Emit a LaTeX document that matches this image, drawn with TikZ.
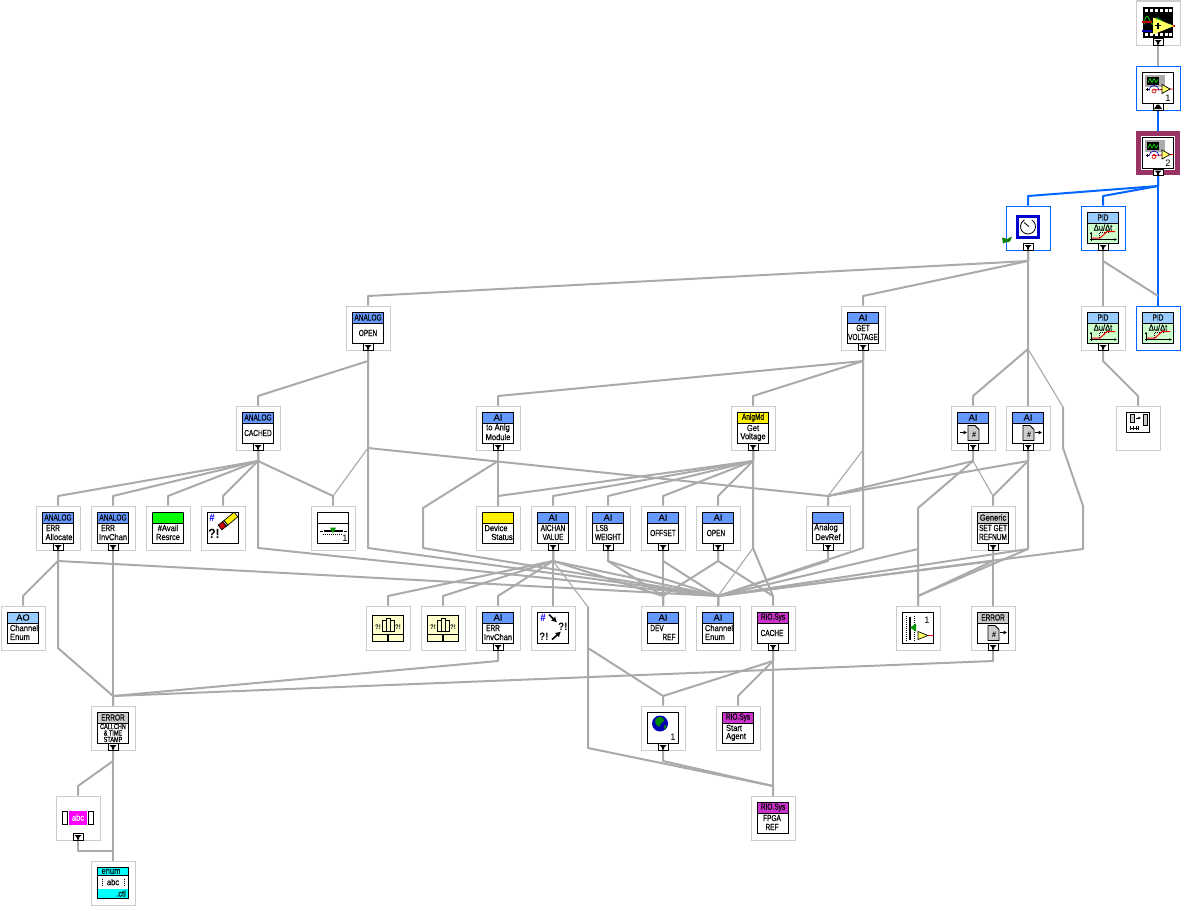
\documentclass[tikz,border=0pt]{standalone}
\usepackage{fontspec}
\usetikzlibrary{arrows.meta}
\setmainfont{Liberation Sans}
\newfontfamily\capfont[FakeStretch=0.74,FakeBold=0.25]{Liberation Sans}
\newfontfamily\lowfont[FakeStretch=0.86,FakeBold=0.25]{Liberation Sans}
\newfontfamily\widefont[FakeStretch=1.05,FakeBold=0.25]{Liberation Sans}
\newfontfamily\boldfont[FakeStretch=0.9]{Liberation Sans Bold}
\newcommand{\pxsize}{\fontsize{6.6}{7}\selectfont}
\definecolor{wiregray}{HTML}{AAAAAA}
\definecolor{tilegray}{HTML}{CCCCCC}
\definecolor{liveblue}{HTML}{0066FF}
\definecolor{plum}{HTML}{993366}
\definecolor{aiblue}{HTML}{6699FF}
\definecolor{paleblue}{HTML}{99CCFF}
\definecolor{pidgreen}{HTML}{CCFFCC}
\definecolor{riomag}{HTML}{CC33CC}
\definecolor{cream}{HTML}{FFFFCC}
\definecolor{headgray}{HTML}{CCCCCC}
\definecolor{ctlcyan}{HTML}{00FFFF}
\definecolor{abcpink}{HTML}{FF00FF}
\definecolor{sigyellow}{HTML}{FFFF66}
\tikzset{
  plain/.style={draw=tilegray,fill=white,line width=.75pt,minimum size=33pt,inner sep=0pt},
  live/.style={plain,draw=liveblue},
  current/.style={plain,draw=plum,line width=3.75pt,minimum size=29.25pt},
  wire/.style={draw=wiregray,line width=1.5pt,line join=round},
  thinwire/.style={draw=wiregray,line width=.85pt,line join=round},
  bluewire/.style={draw=liveblue,line width=1.5pt,line join=round},
  iconbox/.style={draw=black,line width=.75pt,fill=white},
  label/.style={inner sep=0pt,font=\pxsize\capfont},
  tightlabel/.style={inner sep=0pt,font=\fontsize{5.6}{6}\selectfont\capfont},
  hashmark/.style={inner sep=0pt,font=\fontsize{6}{7}\selectfont\boldfont},
  bigmark/.style={inner sep=0pt,font=\fontsize{10}{10}\selectfont\boldfont},
  dropbtn/.style={draw=black,fill=white,line width=.75pt,minimum width=7.5pt,minimum height=5pt,inner sep=0pt}
}
\begin{document}
\begin{tikzpicture}[x=.75pt,y=-.75pt]
\useasboundingbox (0,0) rectangle (1187,910);
\foreach \name/\cx/\ty/\look in {
  film/1158/1/plain, scopea/1158/66/live, scopeb/1158/131/current,
  clock/1028/206/live, pida/1103/206/live,
  aopen/368/306/plain, getv/863/306/plain, pidb/1103/306/plain, pidc/1158/306/live,
  cached/258/406/plain, tomod/498/406/plain, anlgmd/753/406/plain,
  filea/973/406/plain, fileb/1028/406/plain, swap/1138/406/plain,
  erralloc/58/506/plain, errinv/113/506/plain, avail/168/506/plain, pencil/223/506/plain,
  slidea/333/506/plain, devstat/498/506/plain, aichan/553/506/plain, lsb/608/506/plain,
  offset/663/506/plain, aiopen/718/506/plain, devref/828/506/plain, generic/993/506/plain,
  aochan/23/606/plain, bunda/388/606/plain, bundb/443/606/plain, aierr/498/606/plain,
  arrows/553/606/plain, drf/663/606/plain, chanen/718/606/plain, cache/773/606/plain,
  slideb/918/606/plain, errfile/993/606/plain,
  errcall/113/706/plain, globe/663/706/plain, agent/738/706/plain,
  abc/78/796/plain, fpga/773/796/plain, enumctl/113/861/plain}{
  \node[\look] (\name) at (\cx,\ty+22) {};
  \coordinate (\name-out) at (\cx,\ty+55);
  \coordinate (\name-in) at (\cx,\ty-10);
}
\foreach \lane/\cx/\cy in {
  clockmid/1028/349, clockup/1063/407, clockdn/1063/448, clockfar/1083/506, clocklow/1083/549,
  aopenup/368/448, aopenlow/368/548, cachedlow/258/548, modbend/423/508, modlow/423/548,
  anlglow/753/548, getvup/863/450, getvlow/863/548, filebend/918/508, slidelow/918/549,
  fileblow/1028/549, allocdn/58/648, chanbend/588/607, chandn/588/648, chanlow/588/748}{
  \coordinate (\lane) at (\cx,\cy);
}
\coordinate (abcjoin) at (78,851);
\coordinate (enumjoin) at (113,851);
\draw[wire] (film.south) -- (scopea.north);
\draw[bluewire] (scopea.south) -- (scopeb.north);
\draw[bluewire] (scopeb.south) -- (pidc.north);
\foreach \up/\dn in {scopeb/clock, scopeb/pida}{
  \draw[bluewire] (\up.south) -- (\up-out) -- (\dn-in) -- (\dn.north);
}
\foreach \up/\dn in {
  clock/aopen, clock/getv, pida/pidb, pidb/swap, aopen/cached, getv/tomod, getv/anlgmd,
  cached/erralloc, cached/errinv, cached/avail, cached/pencil, cached/slidea,
  tomod/devstat, anlgmd/devstat, anlgmd/aichan, anlgmd/lsb, anlgmd/offset, anlgmd/aiopen,
  filea/devref, fileb/devref, fileb/generic,
  erralloc/aochan, erralloc/chanen, aichan/bunda, aichan/bundb, aichan/aierr, aichan/arrows,
  aichan/drf, aichan/chanen, lsb/drf, lsb/chanen, offset/drf, offset/chanen,
  aiopen/drf, aiopen/cache, devref/chanen, generic/errfile, generic/slideb, generic/chanen,
  errfile/errcall, aierr/errcall, errcall/abc, errcall/enumctl, errinv/errcall,
  cache/globe, cache/agent, cache/fpga, globe/fpga}{
  \draw[wire] (\up.south) -- (\up-out) -- (\dn-in) -- (\dn.north);
}
\draw[wire] (pida-out) -- (pidc-in);
\draw[wire] (abc.south) -- (abcjoin) -- (enumjoin);
\draw[wire] (clock.south) -- (clockmid) -- (filea-in) -- (filea.north);
\draw[wire] (clockmid) -- (fileb.north);
\draw[thinwire] (clockmid) -- (clockup);
\draw[wire] (clockup) -- (clockdn) -- (clockfar) -- (clocklow) -- (chanen-in);
\draw[wire] (erralloc-out) -- (allocdn) -- (errcall-in);
\draw[thinwire] (aopenup) -- (slidea-in);
\draw[wire] (aopen.south) -- (aopenlow) -- (chanen-in);
\draw[wire] (aopenup) -- (devref-in);
\draw[wire] (cached.south) -- (cachedlow) -- (chanen-in);
\draw[wire] (tomod-out) -- (modbend) -- (modlow) -- (chanen-in);
\draw[wire] (anlgmd.south) -- (anlglow) -- (cache-in);
\draw[thinwire] (anlglow) -- (chanen-in);
\draw[wire] (getv.south) -- (getvlow) -- (chanen-in);
\draw[thinwire] (getvup) -- (devref-in);
\draw[wire] (filea-out) -- (filebend) -- (slideb.north);
\draw[wire] (slidelow) -- (chanen-in);
\draw[thinwire] (filea-out) -- (generic-in);
\draw[wire] (fileb.south) -- (fileblow) -- (chanen-in);
\draw[wire] (fileblow) -- (slideb-in);
\draw[thinwire] (aichan-out) -- (chanbend);
\draw[wire] (chanbend) -- (chandn) -- (globe-in);
\draw[wire] (chandn) -- (chanlow) -- (fpga-in);
\foreach \name/\hue/\head in {
  aopen/aiblue/ANALOG, getv/aiblue/{\widefont AI}, cached/aiblue/ANALOG, tomod/aiblue/{\widefont AI},
  anlgmd/yellow/AnlgMd, filea/aiblue/{\widefont AI}, fileb/aiblue/{\widefont AI}, erralloc/aiblue/ANALOG,
  errinv/aiblue/ANALOG, avail/green/{}, devstat/yellow/{}, aichan/aiblue/{\widefont AI},
  lsb/aiblue/{\widefont AI}, offset/aiblue/{\widefont AI}, aiopen/aiblue/{\widefont AI}, devref/aiblue/{},
  generic/headgray/{\lowfont Generic}, aochan/paleblue/{\widefont AO}, aierr/aiblue/{\widefont AI},
  drf/aiblue/{\widefont AI}, chanen/aiblue/{\widefont AI}, cache/riomag/RIO.Sys, errfile/headgray/ERROR,
  errcall/headgray/ERROR, agent/riomag/RIO.Sys, fpga/riomag/RIO.Sys,
  pida/paleblue/PID, pidb/paleblue/PID, pidc/paleblue/PID}{
  \begin{scope}[shift={(\name.north)}]
    \draw[iconbox] (-15.5,6.5) rectangle (15.5,37.5);
    \draw[iconbox,fill=\hue] (-15.5,6.5) rectangle (15.5,17.5);
    \node[label] (\name-head) at (0,12) {\head};
  \end{scope}
}
\foreach \name/\xa/\la/\xb/\lb in {
  getv/0/GET/0/VOLTAGE, tomod/0/{\lowfont to Anlg}/0/{\lowfont Module},
  anlgmd/0/{\lowfont Get}/0/{\lowfont Voltage},
  erralloc/-5/ERR/1/{\lowfont Allocate}, errinv/-5/ERR/0/{\lowfont InvChan},
  avail/0/{\lowfont\#Avail}/0/{\lowfont Resrce},
  devstat/-2/{\lowfont Device}/4/{\lowfont Status},
  aichan/0/AICHAN/0/VALUE, lsb/-6/LSB/0/WEIGHT,
  devref/-2/{\lowfont Analog}/0/{\lowfont DevRef},
  generic/0/SET GET/0/REFNUM, aochan/1/{\lowfont Channel}/-3/{\lowfont Enum},
  aierr/-5/ERR/0/{\lowfont InvChan}, drf/-6/DEV/6/REF,
  chanen/1/{\lowfont Channel}/-3/{\lowfont Enum},
  agent/-4/{\lowfont Start}/-2/{\lowfont Agent}, fpga/-1/FPGA/-1/REF}{
  \begin{scope}[shift={(\name.north)}]
    \node[label] (\name-la) at (\xa,22.5) {\la};
    \node[label] (\name-lb) at (\xb,31.5) {\lb};
  \end{scope}
}
\foreach \name/\xa/\la in {aopen/0/OPEN, cached/0/CACHED, offset/0/OFFSET, aiopen/-2/OPEN, cache/-1/CACHE}{
  \begin{scope}[shift={(\name.north)}]
    \node[label] (\name-la) at (\xa,27.5) {\la};
  \end{scope}
}
\begin{scope}[shift={(errcall.north)}]
  \node[tightlabel] (errcall-la) at (0,21) {CALLCHN};
  \node[tightlabel] (errcall-lb) at (0,27.5) {\& TIME};
  \node[tightlabel] (errcall-lc) at (0,34) {STAMP};
\end{scope}
\begin{scope}[shift={(film.north)}]
  \fill[black] (-15,6) rectangle (15,37);
  \foreach \px in {-13,-8,-3,2,7,11}{
    \fill[white] (\px,8) rectangle ++(3,3);
    \fill[white] (\px,32) rectangle ++(3,3);
  }
  \draw[green!70!black,line width=.75pt] (-14,24) .. controls (-11,5) and (-8,25) .. (-5,24) .. controls (-2,8) and (3,26) .. (13,24);
  \fill[red!80!black] (-16,20) rectangle (-6,22);
  \fill[blue!70!black] (-16,29) rectangle (-6,31);
  \fill[red!80!black] (12,24.5) rectangle (17,26.5);
  \fill[sigyellow] (-5,17) -- (-5,34) -- (16,25.5) -- cycle;
  \draw[black,line width=1.1pt] (-3,25) -- (3,25) (0,22) -- (0,28);
\end{scope}
\foreach \name/\num in {scopea/1,scopeb/2}{
  \begin{scope}[shift={(\name.north)}]
    \draw[iconbox] (-15.5,6.5) rectangle (15.5,37.5);
    \fill[gray!65] (-13,9) rectangle (7,21);
    \fill[black] (-11.5,11) rectangle (1,19);
    \draw[green!80!black,line width=.6pt] (-10,17) -- (-8,13) -- (-6,17) -- (-4,13) -- (-2,17) -- (0,14);
    \draw[black,line width=.5pt] (-12,24) -- (-9,24) (-10.5,22.5) -- (-10.5,25.5);
    \draw[red,line width=.6pt] (-5,24.5) -- (15,23.5);
    \draw[blue!70!black,line width=.5pt] (-9,25) arc[start angle=180,end angle=360,radius=5];
    \draw[red!80!black,line width=.5pt] (-4,25.5) circle[radius=2];
    \fill[sigyellow] (4,19) -- (4,28) -- (12,23.5) -- cycle;
    \draw[black,line width=.5pt] (4,19) -- (4,28) -- (12,23.5) -- cycle;
    \node[inner sep=0pt,font=\fontsize{7}{8}\selectfont] (\name-num) at (10,32.5) {\num};
  \end{scope}
}
\begin{scope}[shift={(clock.north)}]
  \draw[draw=blue!80!black,line width=2.25pt,fill=white] (-10.5,10.5) rectangle (10.5,31.5);
  \draw[line width=.6pt] (0,21) ++(-60:7.5) arc[start angle=-60,end angle=240,radius=7.5];
  \draw[line width=.6pt] (-4,17) -- (1,21);
  \fill[green!50!black] (-26,32) -- (-21,33.5) -- (-16,31) -- (-18,36) -- (-23,37) -- (-25,38) -- cycle;
\end{scope}
\foreach \name in {pida,pidb,pidc}{
  \begin{scope}[shift={(\name.north)}]
    \draw[iconbox,fill=pidgreen] (-15.5,17.5) rectangle (15.5,37.5);
    \node[label] (\name-rate) at (0,22) {\lowfont Δu/Δt};
    \draw[line width=.6pt,-{Latex[length=2pt,width=2pt]}] (-12,35.5) -- (-12,26);
    \draw[line width=.6pt,-{Latex[length=2pt,width=2pt]}] (-13,34) -- (14,34);
    \draw[densely dotted,line width=.5pt] (-4,34) -- (-4,27) -- (6,27);
    \draw[red,line width=.75pt] (-11,32.5) -- (-3,32.5) -- (4,26) -- (12,26);
  \end{scope}
}
\begin{scope}[shift={(swap.north)}]
  \draw[iconbox] (-11.5,6.5) rectangle (11.5,26.5);
  \draw[line width=.5pt,fill=gray!40] (-8,8.5) rectangle (-4,16.5);
  \draw[line width=.5pt,fill=gray!40] (5,8.5) rectangle (9,20);
  \draw[line width=.5pt,-{Latex[length=2pt,width=2pt]}] (-2,12.5) -- (3,12.5);
  \draw[line width=.5pt] (-8,22.5) -- (0,22.5) (-8,20.5) -- (-8,24.5) (-5,20.5) -- (-5,24.5) (-2,20.5) -- (-2,24.5) (0,20.5) -- (0,24.5);
\end{scope}
\foreach \name/\fx/\ax/\bx in {filea/-5/-13/-6,fileb/-5/7/14,errfile/-5/7/14}{
  \begin{scope}[shift={(\name.north)}]
    \draw[line width=.6pt,fill=gray!40] (\fx,20) -- (\fx+7,20) -- (\fx+11,24) -- (\fx+11,35) -- (\fx,35) -- cycle;
    \node[hashmark] (\name-hash) at (\fx+6,29) {\#};
    \draw[line width=.6pt,-{Latex[length=2.5pt,width=3pt]}] (\ax,27) -- (\bx,27);
  \end{scope}
}
\begin{scope}[shift={(pencil.north)}]
  \draw[iconbox] (-15.5,6.5) rectangle (15.5,37.5);
  \node[hashmark,text=blue,font=\fontsize{8}{8}\selectfont\boldfont] (pencil-hash) at (-11,12) {\#};
  \node[bigmark] (pencil-mark) at (-9,28) {?!};
  \draw[line width=.5pt,fill=yellow] (14.9,11.3) -- (11.1,6.7) -- (1,15) -- (4.8,19.6) -- cycle;
  \draw[line width=.5pt,fill=gray!50] (1,15) -- (-0.5,16.2) -- (3.3,20.8) -- (4.8,19.6) -- cycle;
  \draw[line width=.5pt,fill=red!80!black] (-0.5,16.2) -- (-4.9,19.7) -- (-1.1,24.3) -- (3.3,20.8) -- cycle;
\end{scope}
\begin{scope}[shift={(slidea.north)}]
  \draw[iconbox] (-15.5,6.5) rectangle (15.5,37.5);
  \draw[line width=.75pt] (-15.5,17.5) -- (15.5,17.5);
  \draw[line width=1.5pt] (-9,25.5) -- (10,25.5);
  \draw[line width=.4pt] (-13,25.5) -- (-10,25.5) (11,25.5) -- (14,25.5);
  \draw[densely dotted,line width=.5pt] (-10,29) -- (10,29);
  \fill[green!60!black] (-3,22) -- (3,22) -- (0,28) -- cycle;
  \node[inner sep=0pt,font=\fontsize{7}{8}\selectfont] (slidea-num) at (12,32.5) {1};
\end{scope}
\foreach \name in {bunda,bundb}{
  \begin{scope}[shift={(\name.north)}]
    \draw[iconbox,fill=cream] (-15.5,9.5) rectangle (15.5,35.5);
    \draw[line width=.5pt,fill=cream] (-6,15) rectangle (-2,26) (-2,13) rectangle (2,26) (2,15) rectangle (6,26);
    \draw[line width=.75pt] (-15.5,28.5) -- (15.5,28.5);
    \draw[line width=1.5pt] (0,28.5) -- (0,35.5);
    \node[inner sep=0pt,font=\fontsize{5}{6}\selectfont\boldfont] (\name-ql) at (-10,22) {?!};
    \node[inner sep=0pt,font=\fontsize{5}{6}\selectfont\boldfont] (\name-qr) at (10,22) {?!};
  \end{scope}
}
\begin{scope}[shift={(arrows.north)}]
  \draw[iconbox] (-15.5,6.5) rectangle (15.5,37.5);
  \node[hashmark,text=blue,font=\fontsize{8}{8}\selectfont\boldfont] (arrows-hash) at (-10,12) {\#};
  \node[inner sep=0pt,font=\fontsize{8}{8}\selectfont\boldfont] (arrows-qa) at (10,21) {?!};
  \node[inner sep=0pt,font=\fontsize{8}{8}\selectfont\boldfont] (arrows-qb) at (-9,31) {?!};
  \draw[line width=1.2pt,-{Latex[length=4pt,width=4.5pt]}] (-4,9) -- (4,17);
  \draw[line width=1.2pt,-{Latex[length=4pt,width=4.5pt]}] (-1,34) -- (8,26);
\end{scope}
\begin{scope}[shift={(slideb.north)}]
  \draw[iconbox] (-15.5,6.5) rectangle (15.5,37.5);
  \draw[line width=2.2pt] (-8,11) -- (-8,34);
  \draw[densely dotted,line width=.5pt] (-12,10) -- (-12,35) (-4,10) -- (-4,35);
  \fill[green!60!black] (-8,22) -- (-2,18) -- (-2,26) -- cycle;
  \draw[red,line width=.6pt] (8,30) -- (15,30);
  \fill[sigyellow] (0,26) -- (0,34) -- (10,30) -- cycle;
  \draw[line width=.5pt] (0,26) -- (0,34) -- (10,30) -- cycle;
  \node[inner sep=0pt,font=\fontsize{7}{8}\selectfont] (slideb-num) at (9,15) {1};
\end{scope}
\begin{scope}[shift={(globe.north)}]
  \draw[iconbox] (-15.5,6.5) rectangle (15.5,37.5);
  \fill[blue!70!black] (-3,18) circle[radius=8];
  \fill[green!55!black] (-7,13) .. controls (-3,10) and (1,12) .. (1,15) .. controls (-1,19) and (-3,16) .. (-3,21) .. controls (-7,21) and (-9,17) .. (-7,13) -- cycle;
  \fill[green!55!black] (1,20) .. controls (4,18) and (4,22) .. (1,24) -- cycle;
  \node[inner sep=0pt,font=\fontsize{7}{8}\selectfont] (globe-num) at (10,32) {1};
\end{scope}
\begin{scope}[shift={(abc.north)}]
  \draw[iconbox] (-15.5,15.5) rectangle (-10.5,28.5);
  \draw[iconbox] (10.5,15.5) rectangle (15.5,28.5);
  \fill[abcpink] (-9,15) rectangle (9,29);
  \node[label,text=white] (abc-txt) at (0,22) {\lowfont abc};
\end{scope}
\begin{scope}[shift={(enumctl.north)}]
  \draw[iconbox] (-15.5,6.5) rectangle (15.5,37.5);
  \fill[ctlcyan] (-15,7) rectangle (15,15);
  \fill[ctlcyan] (-15,28.5) rectangle (15,37);
  \draw[line width=.75pt] (-15.5,15) -- (15.5,15);
  \node[label] (enumctl-head) at (-2,11) {\lowfont enum};
  \node[label] (enumctl-mid) at (0,21.5) {\lowfont abc};
  \draw[densely dotted,line width=.5pt] (-11,18) -- (-11,25) (11,18) -- (11,25);
  \node[label] (enumctl-tail) at (8,33) {\lowfont .ctl};
\end{scope}
\foreach \name in {film,scopeb,clock,pida,pidb,aopen,getv,cached,tomod,anlgmd,filea,fileb,
  erralloc,errinv,aichan,lsb,offset,aiopen,devref,generic,aierr,cache,errfile,errcall,globe,abc}{
  \begin{scope}[shift={(\name.north)}]
    \node[dropbtn] (\name-drop) at (0,41.5) {};
    \fill (-3.5,39.5) -- (3.5,39.5) -- (1,42) -- (1,44) -- (-1,44) -- (-1,42) -- cycle;
  \end{scope}
}
\begin{scope}[shift={(scopea.north)}]
  \node[dropbtn] (scopea-drop) at (0,41.5) {};
  \fill (-1,39) -- (1,39) -- (4,43.5) -- (-4,43.5) -- cycle;
\end{scope}
\end{tikzpicture}
\end{document}
